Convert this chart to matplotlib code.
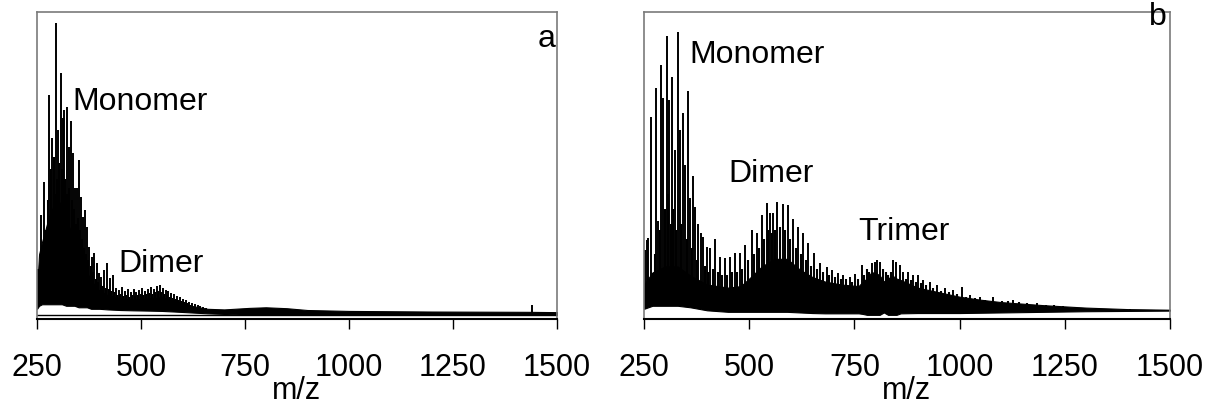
import matplotlib
matplotlib.use('Agg')
import matplotlib.pyplot as plt
import numpy as np

plt.rcParams['font.family'] = ['Liberation Sans', 'DejaVu Sans']

# ---- panel a: main peaks (m/z, relative intensity)
a_peak_mz = [259, 266, 273, 280, 287, 296, 301, 308, 312, 316, 321, 326, 331, 336, 341,
             345, 350, 355, 360, 365, 370, 376, 382, 388, 394, 400, 405, 412, 419, 425,
             432, 440, 447, 454, 461, 468, 475, 482, 489, 496, 503, 510, 517, 524, 531,
             538, 545, 552, 559, 566, 573, 580, 587, 594, 601, 608, 615, 622, 629, 636,
             643, 650, 657, 1439]
a_peak_int = [33, 44, 25.7, 72.6, 58.4, 96.4, 61, 80, 65, 67.7, 68.6, 55.4, 64, 53.5, 42,
              42, 51, 39, 32.3, 34.6, 29, 22.4, 19, 20.5, 17, 13.9, 12.5, 14.8, 17, 12.2,
              13.2, 8.9, 8.3, 9.2, 7.9, 8.6, 7.6, 8.6, 7.6, 8.3, 8.9, 7.9, 8.6, 9.2, 8.6,
              9.6, 9.9, 8.9, 8.3, 7.9, 7.3, 6.9, 6.3, 5.9, 5.3, 5, 4.3, 4, 3.6, 3.3,
              3, 2.6, 2.3, 3.2]
# smaller peaks in between
a_minor_mz = [253, 263, 269, 276, 283, 290, 293, 299, 304, 310, 318, 323, 328, 333, 338,
              343, 348, 353, 358, 363, 368, 373, 379, 385, 391, 397, 403, 409, 415, 422,
              428, 436, 443, 450, 457, 464, 471, 478, 485, 492, 499, 506, 513, 520, 527,
              534, 541, 548, 555, 562, 569, 576, 583, 590, 597, 604, 611, 618]
a_minor_int = [15, 22, 28, 38, 48, 52, 40, 45, 50, 48, 45, 40, 42, 38, 35,
               30, 32, 28, 25, 22, 20, 18, 16, 14, 12, 11, 10, 9.5, 9, 8.5,
               8, 7.5, 6.5, 6.8, 6.2, 6.6, 6.0, 6.4, 6.1, 6.5, 6.9, 6.4, 7.0, 7.2, 7.0,
               7.5, 7.8, 7.4, 7.0, 6.6, 6.0, 5.6, 5.2, 4.9, 4.5, 4.1, 3.8, 3.4]
# dense unresolved part (top and bottom of the black band)
a_env_mz = [250, 255, 262, 270, 280, 290, 300, 310, 320, 330, 340, 350, 360, 370, 380,
            390, 400, 420, 450, 480, 520, 550, 580, 620, 660, 700, 760, 800, 850, 900,
            1000, 1200, 1430, 1500]
a_env_top = [8, 20, 24, 28, 33, 36, 38, 36, 32, 28, 24, 20, 17, 14, 11.5,
             9.5, 8, 6.5, 5.5, 5, 5.5, 5.8, 4.8, 3, 2, 1.8, 2.3, 2.5, 2.2, 1.6,
             1.3, 1.1, 1.0, 0.9]
a_env_floor = [2, 3, 3.5, 3.5, 3.5, 3.5, 3.5, 3.5, 3, 3, 3, 2.5, 2.5, 2.5, 2,
               2, 2, 1.8, 1.6, 1.5, 1.4, 1.3, 1.1, 0.8, 0.5, 0.3, 0, 0, 0, 0,
               0, 0, 0, 0]

# ---- panel b
b_peak_mz = [252, 256, 259.5, 266.6, 272, 279, 284, 290, 295, 304, 310, 316.5, 323, 330, 335.5,
             342, 347, 355, 359, 366, 371, 379, 385, 391, 399, 407, 419.5, 430.6, 442.5, 454,
             466, 478, 490, 506, 518, 530, 541.5, 549.5, 557, 567, 580, 592, 605, 617, 629,
             640.5, 654, 668, 684, 696, 712, 724, 739.5, 751, 767, 791, 799, 804, 811, 842.5,
             850, 858, 866, 878, 890, 902, 914, 930, 946, 965, 985, 1005, 1025, 1049, 1080,
             1128, 1183, 1246, 1326, 1405, 1483]
b_peak_int = [21.5, 24.8, 25.4, 65.3, 13.9, 75, 31, 82.5, 71.6, 92, 71, 78.5, 54.5, 93.4, 61,
              66.7, 49.5, 74, 38.6, 46, 35.6, 30, 27, 25.7, 22.4, 22, 25, 19, 18.8, 19,
              20.5, 20.5, 23, 28, 27, 33, 36.8, 33.7, 33.6, 37.3, 36.5, 36.2, 31.5, 29, 27,
              23.8, 20.5, 17, 15.8, 14.9, 13.9, 13.2, 12.5, 13.5, 16.5, 17, 17.6, 18, 17.3, 18,
              17.5, 16.5, 14.3, 14.3, 13.2, 13.2, 11.6, 11, 9.9, 8.8, 8.3, 9.3, 6.6, 6, 6,
              5, 3.9, 3, 2.2, 1.9, 1.7]
b_minor_mz = [262, 276, 287, 299, 307, 313, 320, 327, 339, 351, 363, 375, 395, 403, 413,
              425, 436, 448, 460, 472, 484, 497, 512, 524, 536, 545, 553, 562, 573, 586,
              598, 611, 623, 635, 647, 661, 676, 690, 704, 718, 731, 745, 758, 773, 779,
              785, 817, 824, 830, 836, 872, 884, 896, 908, 920, 937, 955, 975, 995, 1015,
              1037, 1060, 1100, 1115, 1140, 1160, 1205, 1225]
b_minor_int = [12, 20, 28, 35, 40, 30, 35, 28, 30, 25, 22, 18, 16, 14, 15,
               14, 13, 13, 14, 14, 15, 18, 20, 22, 25, 28, 27, 28, 29, 28,
               25, 22, 20, 18, 16, 15, 14, 13, 12.5, 12, 12, 11, 12, 13, 15,
               14, 15, 14, 13, 14, 12, 11.5, 11, 10.5, 10, 9, 8, 7.5, 7, 6,
               5.5, 5, 4.5, 4.6, 4.2, 4.0, 3.4, 3.2]
b_env_mz = [250, 270, 300, 330, 360, 400, 450, 480, 500, 530, 560, 590, 620, 650, 680,
            720, 760, 770, 780, 790, 800, 810, 820, 830, 840, 850, 860, 900, 950, 1000,
            1050, 1100, 1200, 1300, 1400, 1500]
b_env_top = [10, 14, 16, 16, 13, 10, 9, 9.5, 12, 16, 18.5, 18.5, 15, 12.5, 11,
             10, 9.5, 11, 12, 14, 14, 13, 11, 12, 13, 12, 11.5, 9, 7.5, 6,
             5, 4.2, 3.2, 2.4, 1.9, 1.7]
b_env_floor = [2, 3, 3, 3, 2.5, 1.5, 1, 1, 1, 1, 1, 1, 0.8, 0.6, 0.5,
               0.5, 0.5, 0.3, 0, 0, 0, 0, 0.8, 0, 0, 0, 0.5, 0.6, 0.6, 0.6,
               0.7, 0.8, 1.0, 1.2, 1.3, 1.4]

xticks = [250, 500, 750, 1000, 1250, 1500]

fig = plt.figure(figsize=(12.08, 4.04), dpi=100)
ax_a = fig.add_axes([37 / 1208, 85.5 / 404, 520 / 1208, 306.5 / 404])
ax_b = fig.add_axes([644 / 1208, 85.5 / 404, 526 / 1208, 306.5 / 404])

panels = [
    (ax_a, a_peak_mz, a_peak_int, a_minor_mz, a_minor_int, a_env_mz, a_env_top, a_env_floor),
    (ax_b, b_peak_mz, b_peak_int, b_minor_mz, b_minor_int, b_env_mz, b_env_top, b_env_floor),
]

for ax, pk_mz, pk_int, mn_mz, mn_int, env_mz, env_top, env_floor in panels:
    ax.fill_between(env_mz, env_floor, env_top, color='black', lw=0.8, edgecolor='black')
    # sticks start at the bottom of the dense band
    mn_base = np.interp(mn_mz, env_mz, env_floor)
    pk_base = np.interp(pk_mz, env_mz, env_floor)
    ax.vlines(mn_mz, mn_base, mn_int, color='black', lw=1.5)
    ax.vlines(pk_mz, pk_base, pk_int, color='black', lw=1.4)

    ax.set_xlim(250, 1500)
    ax.set_ylim(-1.2, 100)
    ax.set_xticks(xticks)
    ax.set_xticklabels([str(t) for t in xticks])
    ax.set_yticks([])
    ax.tick_params(axis='x', direction='out', length=7.5, width=1.0, pad=17, labelsize=22)
    ax.set_xlabel('m/z', fontsize=22)
    ax.xaxis.set_label_coords(0.5, -0.188)
    for side in ['left', 'top', 'right']:
        ax.spines[side].set_color('#7a7a7a')
        ax.spines[side].set_linewidth(1.2)
    ax.spines['bottom'].set_color('black')
    ax.spines['bottom'].set_linewidth(1.5)

# baseline of spectrum a
ax_a.axhline(0, color='black', lw=1.0)

# annotations
ax_a.text(334, 67.7, 'Monomer', fontsize=23, va='baseline')
ax_a.text(445, 14.2, 'Dimer', fontsize=23, va='baseline')
ax_a.text(0.997, 0.886, 'a', transform=ax_a.transAxes, fontsize=23, ha='right', va='baseline')

ax_b.text(359, 83.2, 'Monomer', fontsize=23, va='baseline')
ax_b.text(450, 43.9, 'Dimer', fontsize=23, va='baseline')
ax_b.text(759, 24.7, 'Trimer', fontsize=23, va='baseline')
ax_b.text(0.994, 0.958, 'b', transform=ax_b.transAxes, fontsize=23, ha='right', va='baseline')

plt.savefig('out.png', dpi=100)
